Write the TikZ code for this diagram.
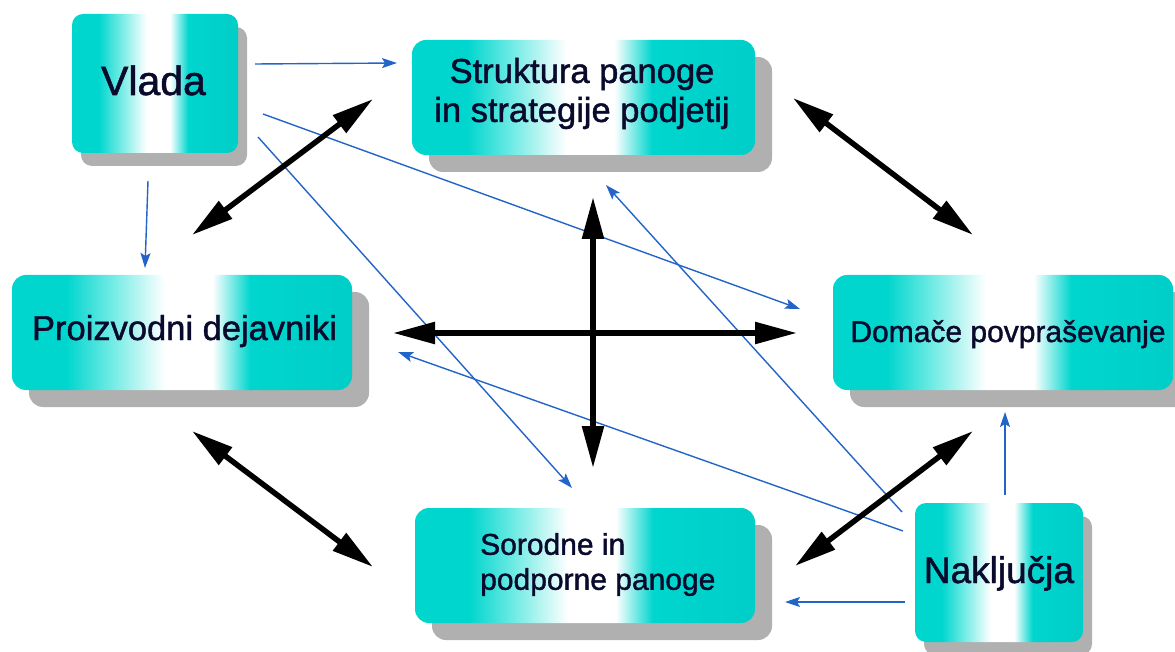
\documentclass[tikz,border=0pt]{standalone}
\usepackage{fontspec}
\setmainfont{Liberation Sans}
\newfontfamily\boxfont[FakeBold=1.3]{Liberation Sans}
\usetikzlibrary{arrows.meta,shadows}
\definecolor{tealc}{RGB}{0,214,206}
\definecolor{tealr}{RGB}{0,206,200}
\definecolor{teallt}{RGB}{120,236,230}
\definecolor{shadowc}{RGB}{176,176,176}
\definecolor{inflc}{RGB}{35,100,200}
\definecolor{txtc}{RGB}{10,10,45}
\pgfdeclarehorizontalshading{tealbar}{100bp}{color(0bp)=(tealc); color(25bp)=(tealc); color(33bp)=(tealc); color(40bp)=(teallt); color(47.5bp)=(white); color(54.5bp)=(white); color(60bp)=(tealc); color(75bp)=(tealr); color(100bp)=(tealr)}
\begin{document}
\begin{tikzpicture}[x=1pt,y=-1pt,
  box/.style={rectangle, rounded corners=14pt, shading=tealbar, draw=none, inner sep=0pt},
  bigshadow/.style={drop shadow={shadow xshift=17pt, shadow yshift=-17pt, fill=shadowc, opacity=1}},
  smallshadow/.style={drop shadow={shadow xshift=9pt, shadow yshift=-13pt, fill=shadowc, opacity=1}},
  lbl/.style={text=txtc, inner sep=0pt},
  mutual/.style={line width=5.5pt, {Triangle[length=42pt,width=21pt]}-{Triangle[length=42pt,width=21pt]}},
  influence/.style={draw=inflc, line width=1.4pt, -{Stealth[length=15pt,width=10pt,inset=3pt]}}
]
\path[use as bounding box] (0,0) rectangle (1175,652);

% boxes
\node[box, smallshadow, rounded corners=11pt, minimum width=166pt, minimum height=139pt] (vlada) at (155,83.5) {};
\node[box, bigshadow, minimum width=343pt, minimum height=115pt] (struk) at (583.5,97.5) {};
\node[box, bigshadow, minimum width=340pt, minimum height=115pt] (proiz) at (182,332.5) {};
\node[box, bigshadow, minimum width=340pt, minimum height=115pt] (domace) at (1003,332.5) {};
\node[box, bigshadow, minimum width=340pt, minimum height=115pt] (sorod) at (585,565.5) {};
\node[box, smallshadow, rounded corners=11pt, minimum width=168pt, minimum height=139pt] (naklj) at (999,572.5) {};

% texts
\node[lbl, anchor=base, font=\boxfont\fontsize{41}{45}\selectfont] (tvlada) at (153.5,95) {Vlada};
\node[lbl, align=center, font=\boxfont\fontsize{34.5}{39}\selectfont] (tstruk) at (582,93.5) {Struktura panoge\\in strategije podjetij};
\node[lbl, anchor=base, font=\boxfont\fontsize{34.5}{39}\selectfont] (tproiz) at (184.5,340) {Proizvodni dejavniki};
\node[lbl, anchor=base, font=\boxfont\fontsize{30}{35}\selectfont] (tdomace) at (1008,342) {Domače povpraševanje};
\node[lbl, anchor=west, align=left, font=\boxfont\fontsize{30}{35}\selectfont] (tsorod) at (480,564.5) {Sorodne in\\podporne panoge};
\node[lbl, anchor=base, font=\boxfont\fontsize{37}{41}\selectfont] (tnaklj) at (999,583) {Naključja};

% connector end points
\coordinate (va1) at (255,64);   \coordinate (va2) at (397,63);
\coordinate (vb1) at (148,181);  \coordinate (vb2) at (145,268);
\coordinate (vc1) at (263,114);  \coordinate (vc2) at (800,309);
\coordinate (vd1) at (258,137);  \coordinate (vd2) at (572,488);
\coordinate (ne1) at (902,512);  \coordinate (ne2) at (606,185);
\coordinate (nf1) at (903,531);  \coordinate (nf2) at (398,352);
\coordinate (ng1) at (905,602);  \coordinate (ng2) at (785,602);
\coordinate (nh1) at (1005,495); \coordinate (nh2) at (1005,412);

\coordinate (ps1) at (192,235);  \coordinate (ps2) at (373,99);
\coordinate (sd1) at (793,98);   \coordinate (sd2) at (973,235);
\coordinate (po1) at (192,431);  \coordinate (po2) at (373,567);
\coordinate (od1) at (795,566);  \coordinate (od2) at (973,431);
\coordinate (hz1) at (393,333);  \coordinate (hz2) at (797,333);
\coordinate (vt1) at (593,197);  \coordinate (vt2) at (593,468);

% influence arrows
\draw[influence] (va1) -- (va2);
\draw[influence] (vb1) -- (vb2);
\draw[influence] (vc1) -- (vc2);
\draw[influence] (vd1) -- (vd2);
\draw[influence] (ne1) -- (ne2);
\draw[influence] (nf1) -- (nf2);
\draw[influence] (ng1) -- (ng2);
\draw[influence] (nh1) -- (nh2);

% mutual arrows
\draw[mutual] (ps1) -- (ps2);
\draw[mutual] (sd1) -- (sd2);
\draw[mutual] (po1) -- (po2);
\draw[mutual] (od1) -- (od2);
\draw[mutual] (hz1) -- (hz2);
\draw[mutual] (vt1) -- (vt2);
\end{tikzpicture}
\end{document}
